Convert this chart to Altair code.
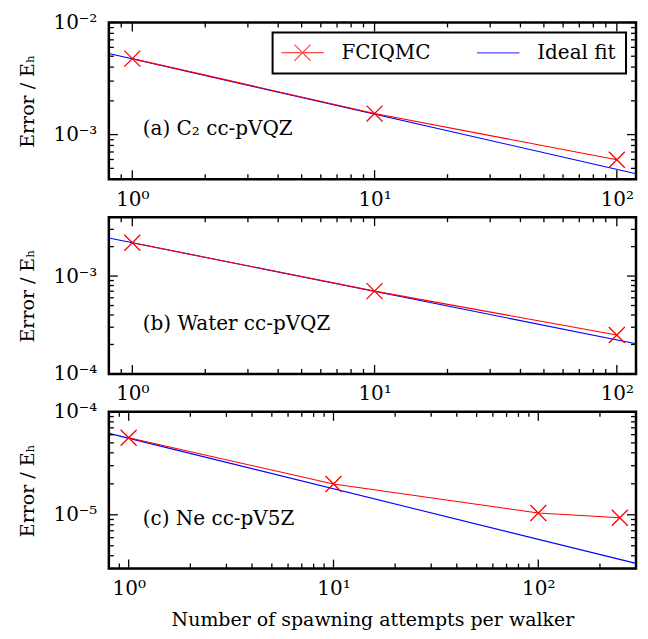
import altair as alt
import pandas as pd

# ---------------- data ----------------
series_names = ["FCIQMC", "Ideal fit"]

x_ab = [1, 10, 100]
c2_err = [4.76e-3, 1.54e-3, 5.97e-4]
water_err = [2.19e-3, 7.02e-4, 2.50e-4]
x_ne = [1, 10, 100, 250]
ne_err = [5.61e-5, 1.99e-5, 1.04e-5, 9.35e-6]

ideal_x_ab = [0.8, 120]
c2_ideal = [5.28e-3, 4.48e-4]
water_ideal = [2.45e-3, 2.03e-4]
ideal_x_ne = [0.8, 300]
ne_ideal = [6.18e-5, 3.37e-6]

panel_labels = ["(a)  C\u2082 cc-pVQZ", "(b)  Water cc-pVQZ", "(c)  Ne cc-pV5Z"]

x_dom_ab = [0.8, 120]
x_dom_ne = [0.8, 300]
y_dom = [[4e-4, 1e-2], [1e-4, 4e-3], [3e-6, 1e-4]]

exps = [-6, -5, -4, -3, -2, -1, 0, 1, 2, 3]
exp_labels = ["10\u207b\u2076", "10\u207b\u2075", "10\u207b\u2074", "10\u207b\u00b3", "10\u207b\u00b2",
              "10\u207b\u00b9", "10\u2070", "10\u00b9", "10\u00b2", "10\u00b3"]
mantissas = [2, 3, 4, 5, 6, 7, 8, 9]

FONT = "DejaVu Serif"
FS = 20
RED = "#ff0000"
BLUE = "#0000ff"
W, H = 528, 157
MAJ, MIN = 9, 5

label_expr = ("[" + ",".join(f"'{l}'" for l in exp_labels) + "][indexof(["
              + ",".join(str(e) for e in exps) + "], round(log(datum.value)/LN10))]")


def ticks_in(dom):
    lo, hi = dom
    majors, minors = [], []
    for e in exps:
        d = 10.0 ** e
        if lo * 0.9999 <= d <= hi * 1.0001:
            majors.append(float(f"{d:.3g}"))
        for m in mantissas:
            v = float(f"{m * d:.3g}")
            if lo * 0.9999 <= v <= hi * 1.0001:
                minors.append(v)
    return majors, minors


def label_axis(dim, dom, title):
    majors, _ = ticks_in(dom)
    kw = dict(orient=("bottom" if dim == "x" else "left"),
              values=majors, ticks=False, domain=False, grid=False,
              labelExpr=label_expr, labelFont=FONT, labelFontSize=FS,
              labelColor="black", labelPadding=(10 if dim == "x" else 12),
              labelFlush=False, labelOverlap=False)
    if title:
        kw.update(title=title, titleFont=FONT, titleFontSize=19,
                  titleFontWeight="normal", titleColor="black",
                  titlePadding=(15 if dim == "y" else 12))
    else:
        kw.update(title=None)
    return alt.Axis(**kw)


def tick_layers(dim, dom, scale):
    majors, minors = ticks_in(dom)
    layers = []
    for vals, ln in ((majors, MAJ), (minors, MIN)):
        df = pd.DataFrame({"v": vals})
        base = alt.Chart(df).mark_rule(color="black", strokeWidth=1.3)
        if dim == "x":
            enc = alt.X("v:Q", scale=scale, axis=None)
            layers.append(base.encode(x=enc, y=alt.value(H), y2=alt.value(H - ln)))
            layers.append(base.encode(x=enc, y=alt.value(0), y2=alt.value(ln)))
        else:
            enc = alt.Y("v:Q", scale=scale, axis=None)
            layers.append(base.encode(y=enc, x=alt.value(0), x2=alt.value(ln)))
            layers.append(base.encode(y=enc, x=alt.value(W), x2=alt.value(W - ln)))
    return layers


def panel(xs, ys, ix, iy, xdom, ydom, label, with_legend, xtitle):
    fci = pd.DataFrame({"x": xs, "y": ys, "series": series_names[0]})
    ide = pd.DataFrame({"x": ix, "y": iy, "series": series_names[1]})
    xs_ = alt.Scale(type="log", domain=xdom, nice=False)
    ys_ = alt.Scale(type="log", domain=ydom, nice=False)

    blue = alt.Chart(ide).mark_line(color=BLUE, strokeWidth=1.1).encode(
        x=alt.X("x:Q", scale=xs_, axis=label_axis("x", xdom, xtitle)),
        y=alt.Y("y:Q", scale=ys_, axis=label_axis("y", ydom, "Error / E\u2095")))
    red = alt.Chart(fci).mark_line(color=RED, strokeWidth=1.1).encode(
        x=alt.X("x:Q", scale=xs_, axis=None), y=alt.Y("y:Q", scale=ys_, axis=None))
    pts = alt.Chart(fci).mark_point(
        shape="M-1,-1L1,1M-1,1L1,-1", filled=False, size=256,
        color=RED, strokeWidth=1.3, opacity=1).encode(
        x=alt.X("x:Q", scale=xs_, axis=None), y=alt.Y("y:Q", scale=ys_, axis=None))

    layers = [blue, red, pts]
    if with_legend:
        leg = alt.Legend(
            title=None, orient="top-right", offset=10, direction="horizontal",
            strokeColor="black", fillColor="white", padding=10,
            labelFont=FONT, labelFontSize=FS, labelColor="black",
            labelOffset=29, symbolOffset=10, columnPadding=43, symbolSize=289,
            symbolStrokeWidth=1.2, symbolType="stroke")
        legend_layer = alt.Chart(fci).transform_filter("false").mark_point(
            filled=False, size=289, strokeWidth=1.2).encode(
            x=alt.X("x:Q", scale=xs_, axis=None), y=alt.Y("y:Q", scale=ys_, axis=None),
            color=alt.Color("series:N", scale=alt.Scale(domain=series_names, range=[RED, BLUE]), legend=leg),
            shape=alt.Shape("series:N", scale=alt.Scale(
                domain=series_names,
                range=["M-2.5,0L2.5,0M-0.95,-0.95L0.95,0.95M-0.95,0.95L0.95,-0.95", "M-2.5,0L2.5,0"]),
                legend=leg),
        )
        layers.append(legend_layer)

    layers += tick_layers("x", xdom, xs_) + tick_layers("y", ydom, ys_)

    txt = alt.Chart(pd.DataFrame({"t": [label]})).mark_text(
        align="left", baseline="middle", font=FONT, fontSize=FS, color="black").encode(
        x=alt.value(34), y=alt.value(107), text="t:N")
    layers.append(txt)

    return alt.layer(*layers).resolve_axis(x="independent", y="independent").properties(
        width=W, height=H)


p1 = panel(x_ab, c2_err, ideal_x_ab, c2_ideal, x_dom_ab, y_dom[0], panel_labels[0], True, None)
p2 = panel(x_ab, water_err, ideal_x_ab, water_ideal, x_dom_ab, y_dom[1], panel_labels[1], False, None)
p3 = panel(x_ne, ne_err, ideal_x_ne, ne_ideal, x_dom_ne, y_dom[2], panel_labels[2], False,
           "Number of spawning attempts per walker")

chart = alt.vconcat(p1, p2, p3, spacing=38, bounds="flush").resolve_scale(
    x="independent", y="independent", color="independent", shape="independent"
).configure_view(stroke="black", strokeWidth=2.5).configure_legend(strokeWidth=2).properties(
    padding={"left": 9, "top": 2, "right": 0, "bottom": 0})

chart.save("out.html", embed_options={"renderer": "svg", "actions": False})
